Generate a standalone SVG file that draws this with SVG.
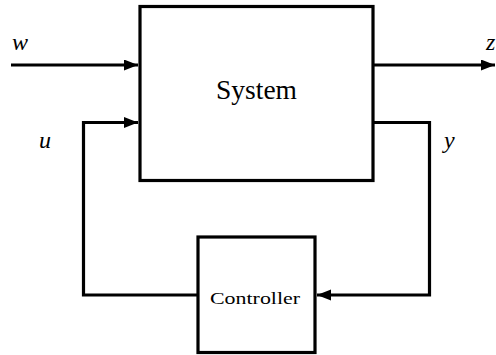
<svg xmlns="http://www.w3.org/2000/svg" width="496" height="355" viewBox="0 0 496 355">
<style>
.box{fill:#fff;stroke:#000;stroke-width:3.2}
.ln{fill:none;stroke:#000;stroke-width:3.2;stroke-linejoin:miter;stroke-linecap:butt}
.lbl{font-family:"Liberation Serif",serif;font-style:italic;font-size:24px;fill:#000}
.txt{font-family:"Liberation Serif",serif;fill:#000;text-anchor:middle}
</style>
<defs>
<marker id="ah" markerUnits="userSpaceOnUse" markerWidth="16" markerHeight="12" refX="14" refY="5.5" orient="auto">
<path d="M0,0 L14,5.5 L0,11 Z" fill="#000"/>
</marker>
</defs>
<g id="system">
<rect class="box" x="140" y="6.5" width="233" height="174"/>
<text class="txt" x="256.5" y="99" font-size="27" textLength="81" lengthAdjust="spacingAndGlyphs">System</text>
</g>
<g id="controller">
<rect class="box" x="198" y="237" width="117" height="115.5"/>
<text class="txt" x="255" y="304" font-size="16" textLength="90" lengthAdjust="spacingAndGlyphs">Controller</text>
</g>
<g id="connectors">
<path class="ln" d="M11,65 L138,65" marker-end="url(#ah)"/>
<path class="ln" d="M198,295 L83.5,295 L83.5,122.5 L138,122.5" marker-end="url(#ah)"/>
<path class="ln" d="M373,65 L495,65" marker-end="url(#ah)"/>
<path class="ln" d="M373,122.5 L429.5,122.5 L429.5,295 L317,295" marker-end="url(#ah)"/>
</g>
<g id="labels">
<text class="lbl" x="12" y="50">w</text>
<text class="lbl" x="39" y="148">u</text>
<text class="lbl" x="486" y="50">z</text>
<text class="lbl" x="444" y="148">y</text>
</g>
</svg>
